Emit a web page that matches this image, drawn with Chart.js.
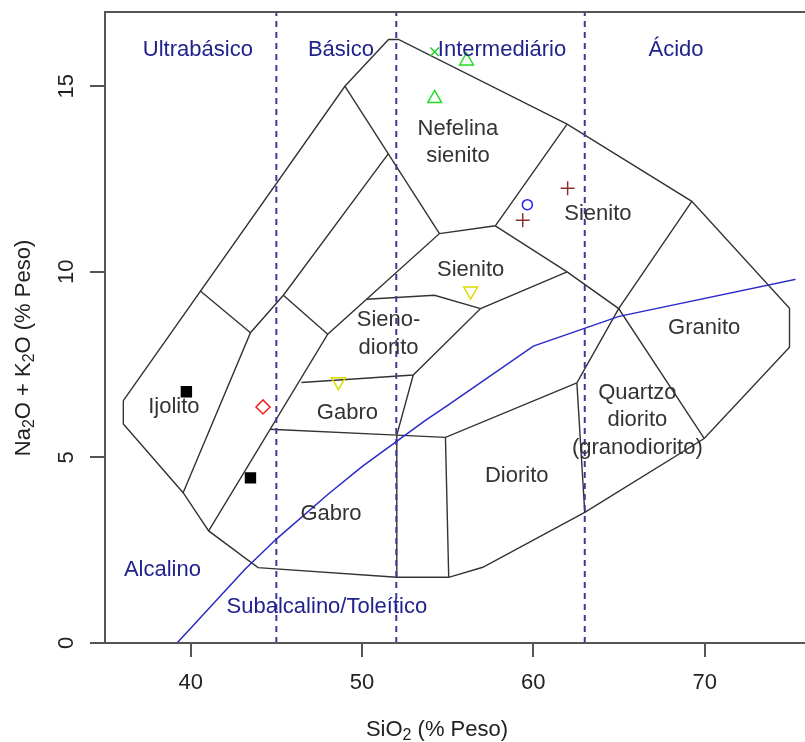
<!DOCTYPE html>
<html>
<head>
<meta charset="utf-8">
<title>Diagrama TAS - rochas plutônicas</title>
<script src="https://cdn.jsdelivr.net/npm/chart.js@4.4.1/dist/chart.umd.min.js"></script>
<style>
  html, body { margin: 0; padding: 0; background: #fff; }
</style>
</head>
<body>
<canvas id="tasChart" width="805" height="742"></canvas>
<script>
// ====================== TAS plutônico (Cox et al. 1979 / Wilson 1989) ======================

// Eixos
const xMin = 35, xMax = 75.3;
const yMin = 0, yMax = 17;
const xTicks = [40, 50, 60, 70];
const yTicks = [0, 5, 10, 15];

// Contorno externo dos campos [SiO2, Na2O+K2O]
const outline = [
  [36.07, 6.53], [49.0, 15.0], [51.55, 16.26], [52.13, 16.26], [61.97, 13.98],
  [69.25, 11.9], [74.95, 9.02], [74.95, 7.97], [69.97, 5.51], [63.0, 3.52],
  [57.05, 2.04], [55.06, 1.77], [52.03, 1.77], [43.93, 2.03], [41.05, 3.02],
  [39.56, 4.05], [36.07, 5.9], [36.07, 6.53]
];

// Divisões internas
const divLines = [
  [[40.55, 9.49], [43.49, 8.36]],
  [[39.56, 4.05], [43.49, 8.36], [45.41, 9.37], [51.55, 13.19]],
  [[49.0, 15.0], [54.52, 11.03]],
  [[45.41, 9.37], [48.0, 8.32]],
  [[41.05, 3.02], [48.0, 8.32], [54.52, 11.03], [57.78, 11.24], [61.97, 13.98]],
  [[57.78, 11.24], [61.97, 10.0], [64.98, 9.01], [69.97, 5.51]],
  [[69.25, 11.9], [64.98, 9.01], [62.54, 7.01], [63.0, 3.52]],
  [[62.54, 7.01], [54.87, 5.54], [55.06, 1.77]],
  [[44.64, 5.76], [52.03, 5.6], [54.87, 5.54]],
  [[52.99, 7.22], [52.03, 5.6], [52.03, 1.77]],
  [[46.46, 7.02], [52.99, 7.22], [56.92, 9.01], [61.97, 10.0]],
  [[50.27, 9.26], [54.23, 9.37], [56.92, 9.01]]
];

// Limites de SiO2 (tracejado)
const silicaLimits = [45, 52, 63];

// Linha Alcalino / Subalcalino (Irvine & Baragar 1971)
const ibSiO2 = [39.2, 40, 43.2, 45, 48, 50, 53.7, 55, 60, 65, 77.4];
const ibAlk  = [0, 0.4, 2, 2.8, 4, 4.75, 6, 6.4, 8, 8.8, 10];

// Amostras
const samplesSquare  = [[39.75, 6.77], [43.49, 4.45]];
const samplesDiamond = [[44.22, 6.36]];
const samplesDownTri = [[48.62, 7.04], [56.34, 9.48]];
const samplesUpTri   = [[54.24, 14.67], [56.1, 15.68]];
const samplesX       = [[54.24, 15.93]];
const samplesCircle  = [[59.65, 11.81]];
const samplesPlus    = [[59.38, 11.39], [62.0, 12.25]];

// Rótulos dos campos
const fieldNames = ['Ijolito', 'Gabro', 'Gabro', 'Sieno-\ndiorito', 'Sienito', 'Nefelina\nsienito',
  'Sienito', 'Diorito', 'Quartzo\ndiorito\n(granodiorito)', 'Granito'];
const fieldSiO2 = [39.02, 49.15, 48.19, 51.55, 56.34, 55.6, 63.77, 59.03, 66.07, 69.97];
const fieldAlk  = [6.37, 6.2, 3.49, 8.32, 10.06, 13.49, 11.55, 4.51, 6.0, 8.49];

// Rótulos em azul
const blueNames = ['Ultrabásico', 'Básico', 'Intermediário', 'Ácido', 'Alcalino', 'Subalcalino/Toleítico'];
const blueSiO2  = [40.42, 48.77, 58.17, 68.33, 38.35, 47.95];
const blueAlk   = [15.99, 15.99, 15.99, 15.99, 1.98, 0.98];

const FONT = '"Liberation Sans", Arial, Helvetica, sans-serif';
const toXY = pts => pts.map(([x, y]) => ({ x, y }));

// ---------- datasets ----------
const datasets = [];

function addPoints(pts, style, color, radius, extra) {
  datasets.push(Object.assign({
    data: toXY(pts), showLine: false, pointStyle: style, pointRadius: radius,
    borderColor: color, backgroundColor: 'rgba(0,0,0,0)', pointBorderWidth: 1.5
  }, extra || {}));
}
addPoints(samplesSquare, 'rect', '#000', 7, { backgroundColor: '#000' });
addPoints(samplesDiamond, 'rectRot', '#ee2222', 7);
addPoints(samplesDownTri, 'triangle', '#dcdc00', 8, { pointRotation: 180 });
addPoints(samplesUpTri, 'triangle', '#22dd22', 8);
addPoints(samplesX, 'crossRot', '#22cc22', 6);
addPoints(samplesCircle, 'circle', '#2222ee', 5);
addPoints(samplesPlus, 'cross', '#8b3030', 7);

datasets.push({
  data: ibSiO2.map((x, i) => ({ x, y: ibAlk[i] })),
  showLine: true, pointRadius: 0, borderColor: '#2a2ac8', borderWidth: 1.5
});

silicaLimits.forEach(v => {
  datasets.push({
    data: [{ x: v, y: yMin }, { x: v, y: yMax }],
    showLine: true, pointRadius: 0, borderColor: '#3a3a9e', borderWidth: 2, borderDash: [6, 5]
  });
});

[outline].concat(divLines).forEach(line => {
  datasets.push({
    data: toXY(line), showLine: true, pointRadius: 0,
    borderColor: '#333', borderWidth: 1.4
  });
});

// ---------- plugins ----------
const labelsPlugin = {
  id: 'tasLabels',
  afterDatasetsDraw(chart) {
    const { ctx, chartArea: a, scales: { x, y } } = chart;
    ctx.save();
    ctx.beginPath();
    ctx.rect(a.left, a.top, a.width, a.height);
    ctx.clip();
    ctx.textAlign = 'center';
    ctx.textBaseline = 'middle';
    ctx.font = '22px ' + FONT;

    ctx.fillStyle = '#333';
    fieldNames.forEach((name, i) => {
      const lines = name.split('\n');
      const px = x.getPixelForValue(fieldSiO2[i]);
      const py = y.getPixelForValue(fieldAlk[i]);
      lines.forEach((ln, k) => ctx.fillText(ln, px, py + (k - (lines.length - 1) / 2) * 27.5));
    });

    ctx.fillStyle = '#22228c';
    blueNames.forEach((name, i) => {
      ctx.fillText(name, x.getPixelForValue(blueSiO2[i]), y.getPixelForValue(blueAlk[i]));
    });
    ctx.restore();
  }
};

// texto com subscrito
function subText(ctx, parts, cx, cy) {
  const big = '22px ' + FONT, small = '16px ' + FONT;
  let total = 0;
  parts.forEach(([t, sub]) => { ctx.font = sub ? small : big; total += ctx.measureText(t).width; });
  let px = cx - total / 2;
  parts.forEach(([t, sub]) => {
    ctx.font = sub ? small : big;
    ctx.fillText(t, px, sub ? cy + 6 : cy);
    px += ctx.measureText(t).width;
  });
}

const framePlugin = {
  id: 'frame',
  afterDraw(chart) {
    const { ctx, chartArea: a } = chart;
    ctx.save();
    ctx.strokeStyle = '#555';
    ctx.lineWidth = 2;
    ctx.beginPath();
    ctx.moveTo(chart.width + 2, a.top);
    ctx.lineTo(a.left, a.top);
    ctx.lineTo(a.left, a.bottom);
    ctx.lineTo(chart.width + 2, a.bottom);
    ctx.stroke();

    // títulos dos eixos
    ctx.fillStyle = '#222';
    ctx.textAlign = 'left';
    ctx.textBaseline = 'middle';
    subText(ctx, [['SiO', false], ['2', true], [' (% Peso)', false]], 437, 730);
    ctx.translate(24, 348);
    ctx.rotate(-Math.PI / 2);
    subText(ctx, [['Na', false], ['2', true], ['O + K', false], ['2', true], ['O (% Peso)', false]], 0, 0);
    ctx.restore();
  }
};

// ---------- chart ----------
new Chart(document.getElementById('tasChart'), {
  type: 'scatter',
  data: { datasets },
  options: {
    responsive: false,
    animation: false,
    devicePixelRatio: 1,
    layout: { padding: { top: 12, right: 0, bottom: 0, left: 0 } },
    plugins: { legend: { display: false }, tooltip: { enabled: false } },
    scales: {
      x: {
        type: 'linear', min: xMin, max: xMax,
        afterBuildTicks: s => { s.ticks = xTicks.map(v => ({ value: v })); },
        afterFit: s => { s.height = 99; s.paddingLeft = 0; s.paddingRight = 0; },
        grid: { drawOnChartArea: false, tickLength: 14, color: '#555', lineWidth: 2 },
        border: { display: false },
        ticks: { padding: 13, maxRotation: 0, color: '#222', font: { family: FONT, size: 22 } }
      },
      y: {
        type: 'linear', min: yMin, max: yMax,
        afterBuildTicks: s => { s.ticks = yTicks.map(v => ({ value: v })); },
        afterFit: s => { s.width = 105; s.paddingTop = 0; s.paddingBottom = 0; },
        grid: { drawOnChartArea: false, tickLength: 15, color: '#555', lineWidth: 2 },
        border: { display: false },
        ticks: { padding: 11, crossAlign: 'center', minRotation: 90, maxRotation: 90,
                 color: '#222', font: { family: FONT, size: 22 } }
      }
    }
  },
  plugins: [labelsPlugin, framePlugin]
});
</script>
</body>
</html>
